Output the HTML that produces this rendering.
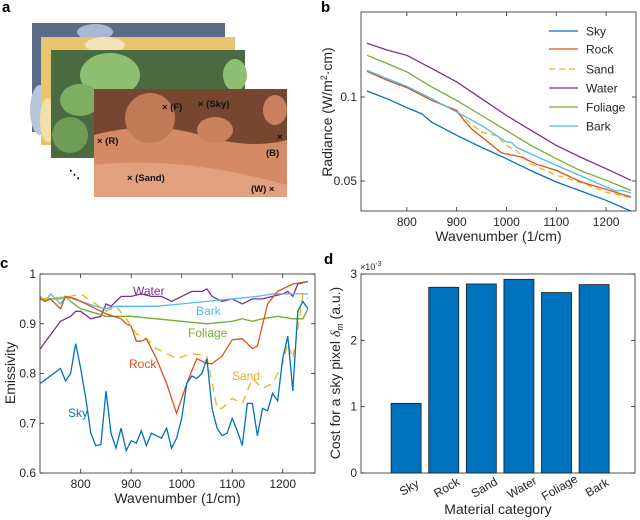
<!DOCTYPE html>
<html><head><meta charset="utf-8"><style>
body{margin:0;background:#fff;}
svg{display:block;font-family:"Liberation Sans",Arial,sans-serif;}
.t{font-size:12px;fill:#262626}
.ti{font-size:14px;fill:#262626}
.pl{font-size:15px;font-weight:bold;fill:#000}
.al{font-size:9.5px;font-weight:bold;fill:#111}
</style></head><body>
<svg id="fig" width="640" height="520" viewBox="0 0 640 520">
<g>
<text class="pl" x="2" y="12">a</text>
<rect x="32" y="23" width="193" height="109" fill="#5b6b88"/>
<ellipse cx="40" cy="110" rx="10" ry="25" fill="#b8c6dc"/>
<ellipse cx="95" cy="32" rx="18" ry="8" fill="#a9b8d1"/>
<rect x="41" y="37" width="194" height="108" fill="#e7c56f"/>
<ellipse cx="48" cy="120" rx="8" ry="22" fill="#f3dfa8"/>
<ellipse cx="105" cy="45" rx="20" ry="8" fill="#f3e2b3"/>
<rect x="51" y="50" width="194" height="108" fill="#4c6a40"/>
<ellipse cx="110" cy="75" rx="30" ry="22" fill="#8fbf73"/>
<ellipse cx="80" cy="100" rx="20" ry="16" fill="#7eae62"/>
<ellipse cx="235" cy="75" rx="12" ry="16" fill="#8fbf73"/>
<ellipse cx="70" cy="135" rx="18" ry="18" fill="#6e9c55"/>
<rect x="94" y="89" width="193" height="108" fill="#764631"/>
<path d="M94 135 Q150 120 200 135 T287 140 L287 197 L94 197 Z" fill="#d48a66"/>
<ellipse cx="150" cy="118" rx="25" ry="25" fill="#c07a58"/>
<ellipse cx="215" cy="130" rx="18" ry="13" fill="#c98160"/>
<ellipse cx="275" cy="110" rx="12" ry="15" fill="#c98160"/>
<path d="M94 165 Q180 155 287 185 L287 197 L94 197Z" fill="#e2a080"/>
<text class="al" x="162" y="110">× (F)</text>
<text class="al" x="198" y="107">× (Sky)</text>
<text class="al" x="97" y="144">× (R)</text>
<text class="al" x="277" y="140">×</text>
<text class="al" x="266" y="156">(B)</text>
<text class="al" x="127" y="181">× (Sand)</text>
<text class="al" x="251" y="192">(W) ×</text>
<text x="69" y="178" style="font-size:11px;font-weight:bold">⋱</text>
</g>
<g id="pb"></g>
<g id="pc"></g>
<g id="pd"></g>
</svg>
<script>
const NS="http://www.w3.org/2000/svg";
const colors=["#0072BD","#D95319","#EDB120","#7E2F8E","#77AC30","#4DBEEE"];
const names=["Sky","Rock","Sand","Water","Foliage","Bark"];
// Panel b data
const bSky=[[720,0.1036],[760,0.099],[800,0.0937],[830,0.090],[850,0.085],[900,0.0772],[950,0.070],[1000,0.0633],[1050,0.056],[1100,0.0494],[1150,0.044],[1200,0.0385],[1250,0.032]];
const bRock=[[720,0.1153],[760,0.110],[800,0.1056],[850,0.098],[900,0.092],[915,0.086],[930,0.081],[990,0.0667],[1030,0.0643],[1060,0.060],[1100,0.0563],[1150,0.0494],[1200,0.045],[1250,0.0405]];
const bSand=[[720,0.1153],[800,0.106],[850,0.099],[900,0.091],[950,0.079],[980,0.077],[1000,0.0712],[1020,0.068],[1050,0.060],[1100,0.0534],[1150,0.049],[1200,0.0434],[1250,0.0402]];
const bWater=[[720,0.132],[760,0.128],[800,0.1248],[850,0.117],[900,0.109],[950,0.099],[1000,0.089],[1050,0.080],[1100,0.0712],[1150,0.064],[1200,0.0573],[1250,0.0504]];
const bFoliage=[[720,0.1248],[760,0.120],[800,0.115],[850,0.106],[900,0.098],[950,0.089],[1000,0.080],[1050,0.071],[1100,0.0633],[1150,0.056],[1200,0.0504],[1250,0.0444]];
const bBark=[[720,0.1159],[760,0.111],[800,0.1063],[850,0.099],[900,0.091],[950,0.083],[1000,0.0732],[1010,0.073],[1020,0.070],[1050,0.066],[1100,0.0593],[1150,0.053],[1200,0.0464],[1220,0.044],[1230,0.0444],[1250,0.043]];
const bXTicks=[800,900,1000,1100,1200];
const bYTicks=[0.05,0.1];
// Panel c data
const cSky=[[720,0.78],[760,0.81],[770,0.785],[780,0.80],[790,0.86],[800,0.81],[810,0.75],[820,0.68],[830,0.655],[840,0.657],[850,0.765],[860,0.68],[870,0.65],[880,0.69],[890,0.645],[900,0.665],[910,0.66],[920,0.685],[930,0.655],[940,0.68],[950,0.675],[960,0.67],[970,0.69],[980,0.65],[990,0.67],[1000,0.71],[1010,0.78],[1020,0.795],[1030,0.79],[1040,0.80],[1050,0.83],[1060,0.73],[1070,0.69],[1080,0.675],[1090,0.68],[1100,0.71],[1110,0.685],[1120,0.655],[1130,0.74],[1140,0.74],[1150,0.675],[1160,0.73],[1170,0.725],[1180,0.76],[1190,0.745],[1200,0.83],[1210,0.875],[1220,0.765],[1230,0.925],[1240,0.945],[1250,0.93]];
const cRock=[[720,0.95],[730,0.945],[740,0.95],[760,0.93],[770,0.955],[790,0.95],[820,0.935],[850,0.92],[880,0.91],[890,0.90],[900,0.895],[910,0.865],[920,0.865],[930,0.87],[950,0.83],[970,0.78],[990,0.72],[1010,0.78],[1030,0.83],[1050,0.82],[1060,0.82],[1080,0.835],[1100,0.868],[1120,0.87],[1140,0.85],[1150,0.855],[1170,0.94],[1190,0.965],[1220,0.98],[1250,0.985]];
const cSand=[[720,0.95],[780,0.955],[800,0.96],[830,0.94],[850,0.925],[870,0.935],[890,0.91],[910,0.88],[930,0.87],[950,0.85],[970,0.84],[990,0.83],[1020,0.84],[1050,0.835],[1070,0.73],[1080,0.73],[1100,0.75],[1120,0.74],[1140,0.79],[1160,0.77],[1180,0.78],[1200,0.82],[1210,0.86],[1220,0.83],[1230,0.89],[1240,0.96],[1250,0.95]];
const cWater=[[720,0.85],[760,0.905],[780,0.915],[790,0.925],[800,0.925],[820,0.91],[840,0.915],[850,0.94],[860,0.935],[870,0.945],[880,0.955],[900,0.955],[920,0.96],[940,0.955],[960,0.955],[980,0.945],[1000,0.955],[1020,0.965],[1040,0.965],[1050,0.97],[1060,0.955],[1080,0.945],[1100,0.95],[1120,0.94],[1140,0.95],[1160,0.95],[1180,0.955],[1200,0.96],[1210,0.965],[1220,0.955],[1230,0.98],[1250,0.985]];
const cFoliage=[[720,0.95],[760,0.95],[770,0.955],[780,0.945],[800,0.93],[850,0.915],[900,0.915],[950,0.91],[1000,0.905],[1050,0.90],[1100,0.905],[1120,0.91],[1140,0.905],[1160,0.91],[1190,0.915],[1220,0.91],[1240,0.91],[1250,0.93]];
const cBark=[[720,0.955],[730,0.945],[740,0.96],[760,0.94],[770,0.955],[800,0.945],[830,0.935],[850,0.93],[870,0.935],[900,0.935],[950,0.935],[1000,0.94],[1050,0.945],[1100,0.95],[1150,0.955],[1180,0.96],[1250,0.96]];
const cXTicks=[800,900,1000,1100,1200];
const cYTicks=[0.6,0.7,0.8,0.9,1];
const cYLabels=["0.6","0.7","0.8","0.9","1"];
// Panel d data
const dCategories=["Sky","Rock","Sand","Water","Foliage","Bark"];
const dValues=[1.05,2.80,2.85,2.92,2.72,2.84];
const dYTicks=[0,1,2,3];

function el(tag,attrs,parent,txt){const e=document.createElementNS(NS,tag);for(const k in attrs)e.setAttribute(k,attrs[k]);if(txt!==undefined)e.textContent=txt;parent.appendChild(e);return e;}
function lin(d0,d1,r0,r1){return v=>r0+(v-d0)/(d1-d0)*(r1-r0);}
function box(g,L,T,R,B){const r=el('rect',{x:L,y:T,width:R-L,height:B-T,fill:'none',stroke:'#262626','stroke-width':0.8},g);

}
function xticks(g,ticks,labels,xs,T,B){ticks.forEach((t,i)=>{const x=xs(t);
el('line',{x1:x,x2:x,y1:B,y2:B-4,stroke:'#262626','stroke-width':0.8},g);el('line',{x1:x,x2:x,y1:T,y2:T+4,stroke:'#262626','stroke-width':0.8},g);
const tx=el('text',{x:x,y:B+15,'text-anchor':'middle',class:'t'},g,labels[i]);

});}
function yticks(g,ticks,labels,ys,L,R){ticks.forEach((t,i)=>{const y=ys(t);
el('line',{x1:L,x2:L+4,y1:y,y2:y,stroke:'#262626','stroke-width':0.8},g);el('line',{x1:R,x2:R-4,y1:y,y2:y,stroke:'#262626','stroke-width':0.8},g);
const tx=el('text',{x:L-4,y:y+4,'text-anchor':'end',class:'t'},g,labels[i]);

});}
function series(g,data,xs,ys,color,dash,name){const d=data.map((p,i)=>(i?'L':'M')+xs(p[0]).toFixed(1)+' '+ys(p[1]).toFixed(1)).join(' ');
const p=el('path',{d:d,fill:'none',stroke:color,'stroke-width':1.3},g);if(dash)p.setAttribute('stroke-dasharray',dash);

}

// Panel b
(function(){const g=document.getElementById('pb');const L=361,R=636,T=12,B=211;
const xs=lin(708,1260,L,R),ys=lin(0.1,0.05,97,181);
el('text',{x:321,y:12,class:'pl'},g,'b');
const sets=[bSky,bRock,bSand,bWater,bFoliage,bBark];
const cp=el('clipPath',{id:'cb'},g);el('rect',{x:L,y:T,width:R-L,height:B-T},cp);
const sg=el('g',{'clip-path':'url(#cb)'},g);
[0,2,1,3,4,5].forEach(i=>series(sg,sets[i],xs,ys,colors[i],i==2?'6,4':null,'radiance-line-'+names[i].toLowerCase()));
box(g,L,T,R,B);
xticks(g,bXTicks,bXTicks.map(String),xs,T,B);yticks(g,bYTicks,bYTicks.map(String),ys,L,R);
const xl=el('text',{x:(L+R)/2,y:241,'text-anchor':'middle',class:'ti'},g,'Wavenumber (1/cm)');

const yl=el('text',{x:0,y:0,'text-anchor':'middle',class:'ti',transform:'translate(332,112) rotate(-90)'},g);
yl.innerHTML='Radiance (W/m<tspan dy="-5" font-size="9">2</tspan><tspan dy="5">·cm)</tspan>';

const lg=el('g',{},g);
const ly=[31,49,69,88,107,126];
names.forEach((n,i)=>{const ln=el('line',{x1:549,x2:578,y1:ly[i],y2:ly[i],stroke:colors[i],'stroke-width':1.3},lg);if(i==2)ln.setAttribute('stroke-dasharray','6,4');
const t=el('text',{x:586,y:ly[i]+4.5,class:'t'},lg,n);

});
})();

// Panel c
(function(){const g=document.getElementById('pc');const L=40,R=315,T=274,B=473;
const xs=lin(800,1200,80.7,282.7),ys=lin(0.6,1,B,T);
el('text',{x:0,y:268,class:'pl'},g,'c');
const sets=[cSky,cRock,cSand,cWater,cFoliage,cBark];
[3,4,5,2,1,0].forEach(i=>series(g,sets[i],xs,ys,colors[i],i==2?'8,6':null,'emissivity-line-'+names[i].toLowerCase()));
box(g,L,T,R,B);
xticks(g,cXTicks,cXTicks.map(String),xs,T,B);yticks(g,cYTicks,cYLabels,ys,L,R);
const xl=el('text',{x:(L+R)/2,y:503,'text-anchor':'middle',class:'ti'},g,'Wavenumber (1/cm)');

const yl=el('text',{x:0,y:0,'text-anchor':'middle',class:'ti',transform:'translate(15,373) rotate(-90)'},g,'Emissivity');

const lbl=[["Water",133,295],["Bark",196,315],["Foliage",188,337],["Rock",129,368],["Sand",232,380],["Sky",68,417]];
lbl.forEach(l=>{const i=names.indexOf(l[0]);const t=el('text',{x:l[1],y:l[2],class:'t',fill:colors[i],style:'fill:'+colors[i]},g,l[0]);

});
})();

// Panel d
(function(){const g=document.getElementById('pd');const L=361,R=635,T=274,B=473;
const ys=lin(0,3,B,T);const step=37.6;const xc=i=>L+(i+1.2)*step;const bw=30;
el('text',{x:324,y:264,class:'pl'},g,'d');
dValues.forEach((v,i)=>{const r=el('rect',{x:xc(i)-bw/2,y:ys(v),width:bw,height:B-ys(v),fill:'#0072BD',stroke:'#1a1a1a','stroke-width':0.8},g);


const t=el('text',{x:0,y:0,'text-anchor':'middle',class:'t',transform:`translate(${xc(i)+5},${B+18}) rotate(-30)`},g,dCategories[i]);

});
box(g,L,T,R,B);
yticks(g,dYTicks,dYTicks.map(String),ys,L,R);
const ex=el('text',{x:360,y:270,style:'font-size:9px;fill:#262626'},g);ex.innerHTML='×10<tspan dy="-4" font-size="7">-3</tspan>';

const xl=el('text',{x:(L+R)/2,y:514,'text-anchor':'middle',class:'ti'},g,'Material category');

const yl=el('text',{x:0,y:0,'text-anchor':'middle',class:'ti',transform:'translate(340,373) rotate(-90)'},g);
yl.innerHTML='Cost for a sky pixel <tspan font-family="Liberation Serif" font-style="italic">δ</tspan><tspan font-family="Liberation Serif" font-style="italic" font-size="10" dy="3">m</tspan><tspan dy="-3"> (a.u.)</tspan>';

})();
</script>
</body></html>
